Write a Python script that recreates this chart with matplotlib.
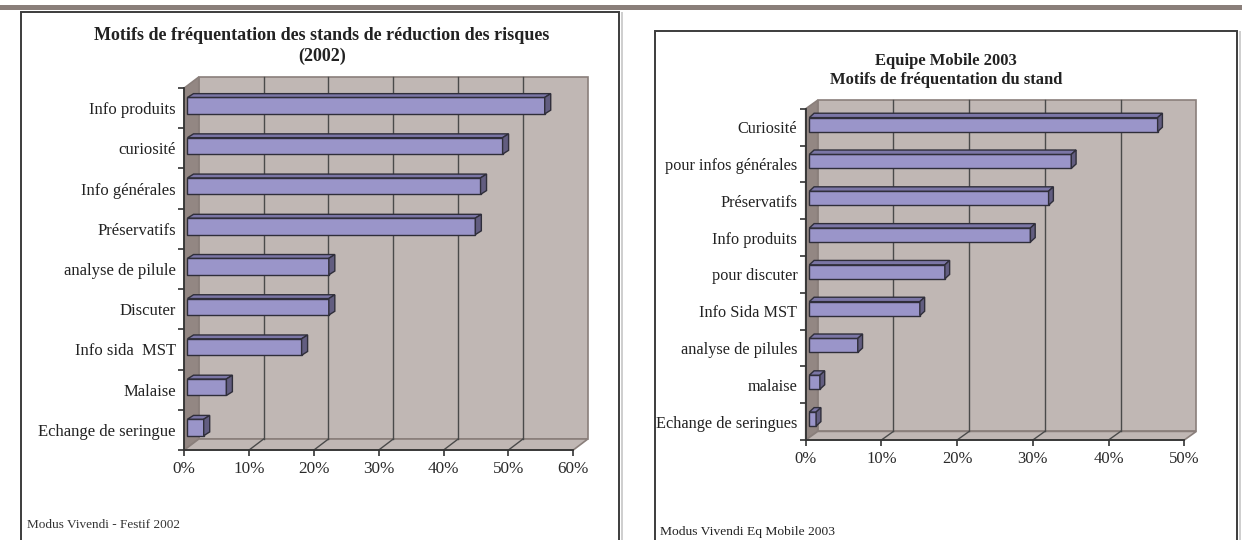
import numpy as np
import matplotlib
matplotlib.use('Agg')
import matplotlib.pyplot as plt
from matplotlib.patches import Polygon, Rectangle

W, H = 1242, 540

# data (percent)
cats_2002 = ['Info produits', 'curiosité', 'Info générales', 'Préservatifs',
             'analyse de pilule', 'Discuter', 'Info sida  MST', 'Malaise',
             'Echange de seringue']
vals_2002 = [55.1, 48.6, 45.2, 44.4, 21.8, 21.8, 17.6, 6.0, 2.5]
ticks_2002 = [0, 10, 20, 30, 40, 50, 60]

cats_2003 = ['Curiosité', 'pour infos générales', 'Préservatifs', 'Info produits',
             'pour discuter', 'Info Sida MST', 'analyse de pilules', 'malaise',
             'Echange de seringues']
vals_2003 = [46.0, 34.6, 31.6, 29.2, 17.9, 14.6, 6.4, 1.4, 0.9]
ticks_2003 = [0, 10, 20, 30, 40, 50]

WALL = '#c0b7b4'
SIDE = '#938783'
EDGE = '#8a7f7b'
GRID = '#4a4a4a'
BAR = '#9a95c9'
BAR_TOP = '#7b76a6'
BAR_SIDE = '#625d80'
BAR_EDGE = '#2f2e3a'
AXC = '#333333'
SERIF = 'Liberation Serif'

plt.rcParams['font.family'] = SERIF


def fx(x):
    return x / W


def fy(y):
    return 1 - y / H


def px_axes(fig, x0, y0, x1, y1):
    return fig.add_axes([x0 / W, 1 - y1 / H, (x1 - x0) / W, (y1 - y0) / H])


def draw_chart(ax, box, cats, vals, ticks, wall_d, bar_d, bar_h, bar_f, fs):
    n = len(cats)
    xmax = ticks[-1]
    ux = (box[2] - box[0]) / xmax
    uy = (box[3] - box[1]) / n
    ddx, ddy = wall_d[0] / ux, wall_d[1] / uy
    ax.set_xlim(0, xmax)
    ax.set_ylim(n - 0.5, -0.5)
    ax.set_facecolor('none')
    top, bot = -0.5, n - 0.5

    # walls and floor
    back = [(ddx, top - ddy), (xmax + ddx, top - ddy), (xmax + ddx, bot - ddy), (ddx, bot - ddy)]
    side = [(0, top), (ddx, top - ddy), (ddx, bot - ddy), (0, bot)]
    floor = [(0, bot), (xmax, bot), (xmax + ddx, bot - ddy), (ddx, bot - ddy)]
    for pts, c in [(back, WALL), (side, SIDE), (floor, WALL)]:
        ax.add_patch(Polygon(pts, closed=True, facecolor=c, edgecolor=EDGE,
                             lw=1.2, clip_on=False, zorder=1))
    for t in ticks[1:-1]:
        ax.plot([t + ddx, t + ddx], [top - ddy, bot - ddy], color=GRID, lw=1,
                clip_on=False, zorder=2)
        ax.plot([t, t + ddx], [bot, bot - ddy], color=GRID, lw=1,
                clip_on=False, zorder=2)

    # 3d bars
    ox, oy = bar_f * ddx, bar_f * ddy
    bh = bar_h / uy
    bdx, bdy = bar_d[0] / ux, bar_d[1] / uy
    y = np.arange(n) - oy
    ax.barh(y, vals, left=ox, height=bh, color=BAR, edgecolor=BAR_EDGE, lw=1,
            zorder=5, clip_on=False)
    for yc, v in zip(y, vals):
        t0 = yc - bh / 2
        tf = [(ox, t0), (ox + bdx, t0 - bdy), (ox + v + bdx, t0 - bdy), (ox + v, t0)]
        sf = [(ox + v, t0), (ox + v + bdx, t0 - bdy), (ox + v + bdx, t0 + bh - bdy), (ox + v, t0 + bh)]
        ax.add_patch(Polygon(tf, closed=True, facecolor=BAR_TOP, edgecolor=BAR_EDGE,
                             lw=1, zorder=5, clip_on=False))
        ax.add_patch(Polygon(sf, closed=True, facecolor=BAR_SIDE, edgecolor=BAR_EDGE,
                             lw=1, zorder=5, clip_on=False))

    for s in ['top', 'right']:
        ax.spines[s].set_visible(False)
    for s in ['left', 'bottom']:
        ax.spines[s].set_color(AXC)
        ax.spines[s].set_linewidth(1.3)
        ax.spines[s].set_zorder(6)

    ax.set_yticks(np.arange(n))
    ax.set_yticklabels(cats, fontsize=fs)
    ax.set_yticks(np.arange(n + 1) - 0.5, minor=True)
    ax.tick_params(axis='y', which='major', length=0, pad=6, labelcolor='#222222')
    ax.tick_params(axis='y', which='minor', length=4.5, width=1.2, color=AXC)
    ax.set_xticks(ticks)
    ax.set_xticklabels([f'{t}%' for t in ticks], fontsize=fs + 0.3)
    ax.tick_params(axis='x', length=4, width=1.2, color=AXC, pad=4, labelcolor='#2a2a2a')


fig = plt.figure(figsize=(W / 100, H / 100), dpi=100)
fig.patch.set_facecolor('white')

# top rule and panel frames
fig.patches.append(Rectangle((0, fy(10)), 1, 5 / H, transform=fig.transFigure,
                             facecolor='#8a7f7a', edgecolor='none'))
for x0, y0, x1 in [(21, 12, 619), (655, 30.5, 1237)]:
    fig.patches.append(Rectangle((fx(x1 + 1.5), fy(H + 5)), 2 / W, (H + 5 - y0) / H,
                                 transform=fig.transFigure, facecolor='#cfcfcf',
                                 edgecolor='none'))
    fig.patches.append(Rectangle((fx(x0), fy(H + 5)), (x1 - x0) / W, (H + 5 - y0) / H,
                                 transform=fig.transFigure, facecolor='none',
                                 edgecolor='#3c3c3c', lw=1.4))

box_l = (184.3, 88, 573.3, 450)
ax1 = px_axes(fig, *box_l)
draw_chart(ax1, box_l, cats_2002, vals_2002, ticks_2002, wall_d=(14.5, 11),
           bar_d=(6, 3.8), bar_h=16.5, bar_f=0.22, fs=12)

box_r = (805.7, 108.8, 1184.3, 440)
ax2 = px_axes(fig, *box_r)
draw_chart(ax2, box_r, cats_2003, vals_2003, ticks_2003, wall_d=(12, 8.6),
           bar_d=(4.8, 4.4), bar_h=14, bar_f=0.3, fs=11.7)

fig.text(fx(322), fy(35), 'Motifs de fréquentation des stands de réduction des risques',
         ha='center', va='center', fontsize=13, fontweight='bold', color='#222222')
fig.text(fx(322), fy(56), '(2002)', ha='center', va='center', fontsize=13,
         fontweight='bold', color='#222222')
fig.text(fx(946), fy(61), 'Equipe Mobile 2003', ha='center', va='center', fontsize=12,
         fontweight='bold', color='#222222')
fig.text(fx(946), fy(80), 'Motifs de fréquentation du stand', ha='center', va='center',
         fontsize=12, fontweight='bold', color='#222222')

fig.text(fx(27), fy(525), 'Modus Vivendi - Festif 2002', ha='left', va='center',
         fontsize=9.5, color='#333333')
fig.text(fx(660), fy(532), 'Modus Vivendi Eq Mobile 2003', ha='left', va='center',
         fontsize=9.7, color='#222222')

fig.savefig('out.png', dpi=100)
